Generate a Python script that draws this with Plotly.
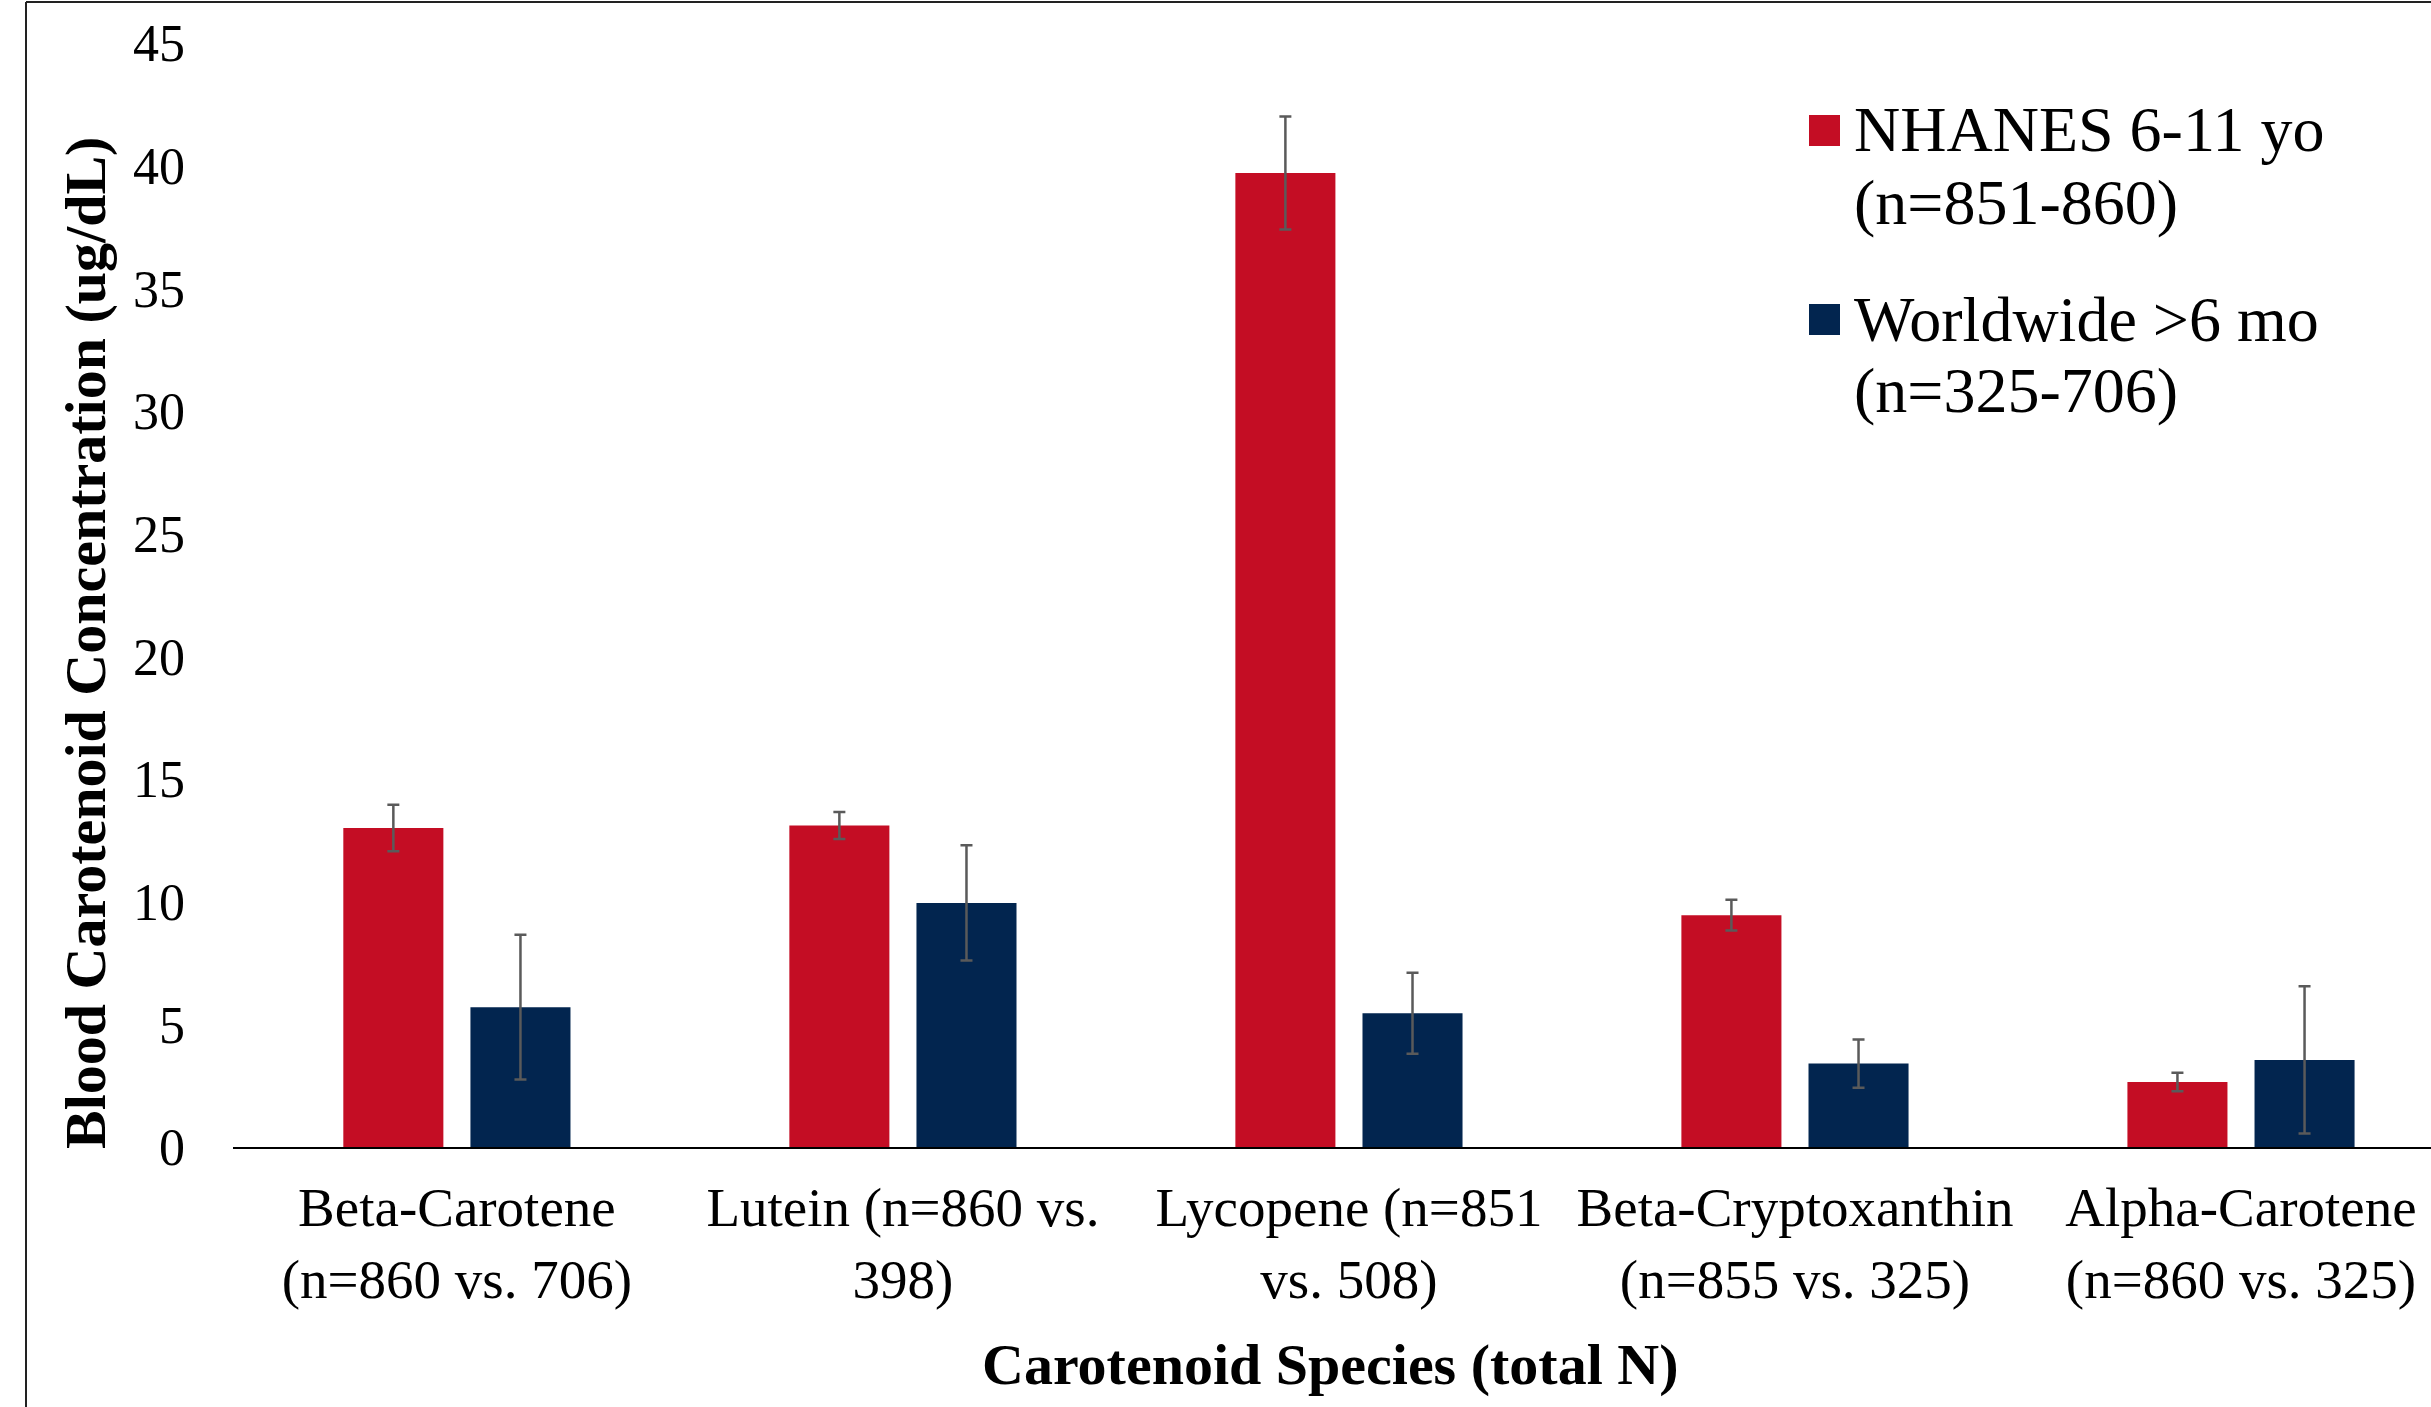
import plotly.graph_objects as go

categories = [
    "Beta-Carotene<br>(n=860 vs. 706)",
    "Lutein (n=860 vs.<br>398)",
    "Lycopene (n=851<br>vs. 508)",
    "Beta-Cryptoxanthin<br>(n=855 vs. 325)",
    "Alpha-Carotene<br>(n=860 vs. 325)",
]
series_names = ["NHANES 6-11 yo", "Worldwide >6 mo"]
series_n = ["(n=851-860)", "(n=325-706)"]
nhanes_values = [13.0, 13.1, 39.7, 9.45, 2.65]
nhanes_err = [0.95, 0.55, 2.3, 0.63, 0.38]
world_values = [5.7, 9.95, 5.45, 3.4, 3.55]
world_err = [2.95, 2.35, 1.65, 0.98, 3.0]
y_ticks = [0, 5, 10, 15, 20, 25, 30, 35, 40, 45]

RED = "#C40D24"
NAVY = "#02254F"
ERR = "#5A5A5A"
FONT = "Liberation Serif, Times New Roman, serif"

W, H = 2431, 1407
ML, MR, MT, MB = 233, 0, 43, 260
PW, PH = W - ML - MR, H - MT - MB


def px_x(x):
    return (x - ML) / PW


def px_y(y):
    return (H - MB - y) / PH


fig = go.Figure()
for name, vals, errs, col in [
    (series_names[0], nhanes_values, nhanes_err, RED),
    (series_names[1], world_values, world_err, NAVY),
]:
    fig.add_trace(go.Bar(
        x=categories, y=vals, name=name, marker=dict(color=col, line=dict(width=0)),
        error_y=dict(type="data", array=errs, visible=True, color=ERR, thickness=2.5, width=6),
        showlegend=False,
    ))

shapes = [
    dict(type="line", xref="paper", yref="paper", x0=px_x(26), x1=px_x(26),
         y0=px_y(2), y1=px_y(H + 5), line=dict(color="#222", width=2)),
    dict(type="line", xref="paper", yref="paper", x0=px_x(26), x1=1.0,
         y0=px_y(2), y1=px_y(2), line=dict(color="#222", width=2)),
]
annotations = [
    dict(text="<b>Blood Carotenoid Concentration (ug/dL)</b>", xref="paper", yref="paper",
         x=px_x(85), y=px_y(643), textangle=-90, showarrow=False,
         xanchor="center", yanchor="middle", font=dict(family=FONT, size=58, color="black")),
    dict(text="<b>Carotenoid Species (total N)</b>", xref="paper", yref="paper",
         x=px_x(1330), y=px_y(1364), showarrow=False,
         xanchor="center", yanchor="middle", font=dict(family=FONT, size=58, color="black")),
]
legend_rows = [(130, 202, RED, 0), (319, 391, NAVY, 1)]
for y1, y2, col, i in legend_rows:
    shapes.append(dict(type="rect", xref="paper", yref="paper", x0=px_x(1809), x1=px_x(1840),
                       y0=px_y(y1 - 15), y1=px_y(y1 + 16), fillcolor=col, line=dict(width=0)))
    for txt, yy in [(series_names[i], y1), (series_n[i], y2)]:
        annotations.append(dict(text=txt, xref="paper", yref="paper", x=px_x(1852), y=px_y(yy),
                                showarrow=False, xanchor="left", yanchor="middle",
                                font=dict(family=FONT, size=64, color="black")))

fig.update_layout(
    width=W, height=H,
    margin=dict(l=ML, r=MR, t=MT, b=MB, pad=0),
    paper_bgcolor="white", plot_bgcolor="white",
    barmode="group", bargap=0.43, bargroupgap=0.213,
    font=dict(family=FONT, color="black"),
    shapes=shapes, annotations=annotations,
    showlegend=False,
)
fig.update_xaxes(
    range=[-0.502, 4.426], showgrid=False, zeroline=False,
    showline=True, linecolor="black", linewidth=2, ticks="",
    tickfont=dict(family=FONT, size=55, color="black"), ticklabelstandoff=11,
)
fig.update_yaxes(
    range=[0, 45], tickvals=y_ticks, showgrid=False, zeroline=False, showline=False, ticks="",
    tickfont=dict(family=FONT, size=52, color="black"), ticklabelstandoff=47,
)

fig.write_html(
    "out.html",
    config={"displayModeBar": False},
    post_script="document.body.style.margin='0';document.body.style.overflow='hidden';",
)
